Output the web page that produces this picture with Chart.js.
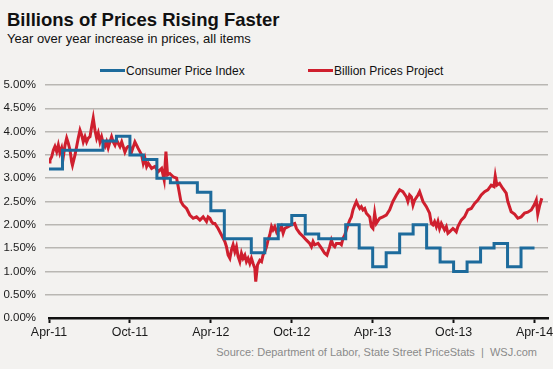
<!DOCTYPE html>
<html>
<head>
<meta charset="utf-8">
<script src="https://cdn.jsdelivr.net/npm/chart.js@4.4.1/dist/chart.umd.min.js"></script>
<style>
  html, body { margin: 0; padding: 0; background: #f3f2f0; }
  body { width: 553px; height: 369px; position: relative; overflow: hidden;
         font-family: "Liberation Sans", Arial, sans-serif; color: #111; }
  canvas { position: absolute; left: 0; top: 0; }
  .txt { position: absolute; white-space: nowrap; line-height: 1; }
  #title { left: 7px; top: 11px; font-size: 18.5px; font-weight: bold; }
  #subtitle { left: 7px; top: 31.5px; font-size: 13px; }
  #source { right: 16px; top: 347px; font-size: 11px; color: #8a8a8a; }
  .swatch { position: absolute; height: 3px; width: 25px; top: 68.5px; }
  .key { position: absolute; top: 64.8px; font-size: 12px; line-height: 1; white-space: nowrap; }
</style>
</head>
<body>
<div id="title" class="txt">Billions of Prices Rising Faster</div>
<div id="subtitle" class="txt">Year over year increase in prices, all items</div>
<div id="legend"></div>
<div id="source" class="txt">Source: Department of Labor, State Street PriceStats &nbsp;|&nbsp; WSJ.com</div>
<canvas id="chart" width="553" height="369"></canvas>
<script>
// Inflação anual: CPI (mensal, em degraus) vs. Billion Prices Project (diário).
// Eixo x em meses a partir de abr/2011.
var xTickMonths = [0, 6, 12, 18, 24, 30, 36];
var xTickLabels = ["Apr-11", "Oct-11", "Apr-12", "Oct-12", "Apr-13", "Oct-13", "Apr-14"];
var yTickValues = [0, 0.5, 1, 1.5, 2, 2.5, 3, 3.5, 4, 4.5, 5];

var cpiMonths = [0, 1, 2, 3, 4, 5, 6, 7, 8, 9, 10, 11, 12, 13, 14, 15, 16, 17, 18,
  19, 20, 21, 22, 23, 24, 25, 26, 27, 28, 29, 30, 31, 32, 33, 34, 35, 36];
var cpiValues = [3.2, 3.6, 3.6, 3.6, 3.8, 3.9, 3.5, 3.4, 3.0, 2.9, 2.9, 2.7, 2.3,
  1.7, 1.7, 1.4, 1.7, 2.0, 2.2, 1.8, 1.7, 1.7, 2.0, 1.5, 1.1, 1.4, 1.8, 2.0, 1.5,
  1.2, 1.0, 1.2, 1.5, 1.6, 1.1, 1.5, 1.5];

var bppMonths = [0, 0.07, 0.2, 0.32, 0.44, 0.57, 0.69, 0.81, 0.94, 1.06,
  1.19, 1.31, 1.43, 1.56, 1.68, 1.74, 1.8, 1.93, 2.05, 2.17,
  2.3, 2.42, 2.54, 2.67, 2.79, 2.91, 3.04, 3.16, 3.28, 3.41,
  3.53, 3.65, 3.78, 3.9, 4.02, 4.15, 4.27, 4.39, 4.52, 4.64,
  4.76, 4.89, 5.01, 5.13, 5.26, 5.39, 5.5, 5.63, 5.76, 5.87,
  6.0, 6.13, 6.37, 6.61, 6.87, 6.99, 7.11, 7.24, 7.36, 7.61,
  7.85, 8.1, 8.35, 8.54, 8.67, 8.79, 8.96, 9.21, 9.46, 9.58,
  9.78, 9.95, 10.2, 10.44, 10.69, 10.94, 11.19, 11.43, 11.68, 11.8,
  11.93, 12.05, 12.17, 12.3, 12.54, 12.79, 13.04, 13.16, 13.28, 13.41,
  13.53, 13.65, 13.78, 13.9, 14.02, 14.15, 14.27, 14.39, 14.52, 14.64,
  14.76, 14.89, 15.01, 15.13, 15.26, 15.33, 15.46, 15.63, 15.76, 15.87,
  16.0, 16.13, 16.24, 16.37, 16.5, 16.61, 16.74, 16.87, 16.99, 17.11,
  17.24, 17.36, 17.48, 17.73, 17.98, 18.22, 18.35, 18.59, 18.84, 19.09,
  19.33, 19.46, 19.58, 19.7, 19.95, 20.2, 20.44, 20.61, 20.81, 20.94,
  21.06, 21.19, 21.31, 21.56, 21.68, 21.8, 21.93, 22.05, 22.17, 22.3,
  22.42, 22.54, 22.67, 22.79, 22.91, 23.04, 23.16, 23.28, 23.41, 23.53,
  23.78, 23.9, 24.02, 24.15, 24.27, 24.52, 24.76, 25.01, 25.26, 25.5,
  25.76, 26.0, 26.24, 26.5, 26.61, 26.74, 26.87, 26.99, 27.11, 27.36,
  27.48, 27.61, 27.73, 27.98, 28.22, 28.35, 28.47, 28.59, 28.72, 28.84,
  28.96, 29.09, 29.33, 29.46, 29.58, 29.7, 29.95, 30.07, 30.2, 30.32,
  30.44, 30.57, 30.81, 31.06, 31.31, 31.56, 31.8, 32.05, 32.3, 32.54,
  32.79, 32.99, 33.09, 33.21, 33.41, 33.65, 33.9, 34.02, 34.27, 34.52,
  34.76, 35.01, 35.26, 35.5, 35.76, 36.0, 36.13, 36.24, 36.37, 36.54];
var bppValues = [3.35, 3.39, 3.46, 3.6, 3.68, 3.57, 3.71, 3.54, 3.65, 3.46,
  3.71, 3.86, 3.75, 3.6, 3.35, 3.28, 3.35, 3.5, 3.68, 3.86,
  4.03, 3.93, 3.78, 3.89, 3.78, 3.86, 3.89, 4.1, 4.29, 4.03,
  3.86, 3.97, 3.78, 3.89, 3.75, 3.68, 3.78, 3.65, 3.78, 3.89,
  3.78, 3.71, 3.82, 3.75, 3.68, 3.78, 3.68, 3.56, 3.65, 3.68,
  3.68, 3.57, 3.78, 3.64, 3.5, 3.32, 3.43, 3.25, 3.32, 3.21,
  3.25, 3.14, 3.21, 2.96, 3.57, 3.07, 3.1, 3.03, 3.0, 2.82,
  2.5, 2.42, 2.35, 2.21, 2.14, 2.17, 2.1, 2.17, 2.07, 2.17,
  2.14, 2.07, 2.03, 2.03, 1.92, 1.78, 1.64, 1.53, 1.35, 1.28,
  1.46, 1.57, 1.42, 1.53, 1.32, 1.21, 1.39, 1.28, 1.35, 1.21,
  1.28, 1.17, 1.28, 1.17, 1.07, 0.78, 1.14, 1.24, 1.21, 1.35,
  1.42, 1.53, 1.67, 1.78, 1.96, 1.89, 1.96, 1.85, 1.92, 1.89,
  1.96, 1.82, 1.92, 1.96, 2.0, 2.03, 1.92, 1.82, 1.75, 1.67,
  1.6, 1.53, 1.64, 1.57, 1.6, 1.5, 1.39, 1.35, 1.53, 1.67,
  1.57, 1.53, 1.6, 1.6, 1.57, 1.71, 1.78, 1.89, 2.0, 2.1,
  2.17, 2.32, 2.42, 2.5, 2.42, 2.35, 2.39, 2.32, 2.35, 2.25,
  2.17, 1.96, 1.92, 2.25, 2.03, 2.14, 2.17, 2.21, 2.32, 2.5,
  2.64, 2.75, 2.71, 2.6, 2.5, 2.64, 2.6, 2.42, 2.53, 2.64,
  2.71, 2.6, 2.5, 2.39, 2.25, 2.03, 2.0, 2.07, 1.96, 2.07,
  1.92, 2.03, 1.89, 1.96, 1.82, 1.85, 1.92, 1.89, 1.85, 1.96,
  2.03, 2.1, 2.17, 2.32, 2.35, 2.46, 2.53, 2.64, 2.71, 2.75,
  2.85, 2.82, 3.05, 2.85, 2.89, 2.78, 2.68, 2.5, 2.28, 2.23,
  2.14, 2.17, 2.25, 2.27, 2.32, 2.44, 2.53, 2.23, 2.4, 2.57];

(function () {
  "use strict";

  var BLUE = "#1d6b9c";
  var RED = "#cf1f2e";
  var GRID = "#b9b7b3";
  var AXIS = "#111111";
  var FONT = "'Liberation Sans', Arial, sans-serif";

  function points(xs, ys) {
    return xs.map(function (x, i) {
      return { x: x, y: ys[i] };
    });
  }

  var datasets = [
    {
      label: "Consumer Price Index",
      data: points(cpiMonths, cpiValues),
      borderColor: BLUE,
      borderWidth: 3,
      stepped: true,
      pointRadius: 0,
      fill: false,
    },
    {
      label: "Billion Prices Project",
      data: points(bppMonths, bppValues),
      borderColor: RED,
      borderWidth: 3,
      tension: 0,
      pointRadius: 0,
      fill: false,
    },
  ];

  // Legenda em HTML (posições fixas como no original)
  var legendX = [100, 308];
  var legend = document.getElementById("legend");
  datasets.forEach(function (ds, i) {
    var sw = document.createElement("div");
    sw.className = "swatch";
    sw.style.left = legendX[i] + "px";
    sw.style.background = ds.borderColor;
    legend.appendChild(sw);
    var key = document.createElement("div");
    key.className = "key";
    key.style.left = legendX[i] + 26 + "px";
    key.textContent = ds.label;
    legend.appendChild(key);
  });

  new Chart(document.getElementById("chart"), {
    type: "line",
    data: { datasets: datasets },
    options: {
      responsive: false,
      animation: false,
      layout: { padding: { top: 85, right: 5, bottom: 0, left: 0 } },
      plugins: {
        legend: { display: false },
        tooltip: { enabled: false },
      },
      scales: {
        x: {
          type: "linear",
          min: 0,
          max: 37,
          afterBuildTicks: function (scale) {
            scale.ticks = xTickMonths.map(function (v) {
              return { value: v };
            });
          },
          afterFit: function (scale) {
            scale.height = 51;
            scale.paddingLeft = 0;
            scale.paddingRight = 0;
          },
          ticks: {
            autoSkip: false,
            maxRotation: 0,
            padding: 2,
            color: "#1a1a1a",
            font: { family: FONT, size: 12.4 },
            callback: function (v, i) {
              return xTickLabels[i];
            },
          },
          grid: {
            drawOnChartArea: false,
            drawTicks: true,
            tickLength: 5,
            tickWidth: 2,
            tickColor: AXIS,
          },
          border: { display: true, color: AXIS, width: 2.5 },
        },
        y: {
          min: 0,
          max: 5,
          afterBuildTicks: function (scale) {
            scale.ticks = yTickValues.map(function (v) {
              return { value: v };
            });
          },
          afterFit: function (scale) {
            scale.width = 49;
            scale.paddingTop = 0;
            scale.paddingBottom = 0;
          },
          ticks: {
            padding: 9,
            color: "#1a1a1a",
            font: { family: FONT, size: 11.5 },
            callback: function (v) {
              return v.toFixed(2) + "%";
            },
          },
          grid: {
            lineWidth: 1.5,
            tickLength: 4,
            color: function (ctx) {
              return ctx.tick && ctx.tick.value === 0 ? "rgba(0,0,0,0)" : GRID;
            },
            tickColor: function (ctx) {
              return ctx.tick && ctx.tick.value === 0 ? "rgba(0,0,0,0)" : GRID;
            },
          },
          border: { display: false },
        },
      },
    },
  });
})();
</script>
</body>
</html>
